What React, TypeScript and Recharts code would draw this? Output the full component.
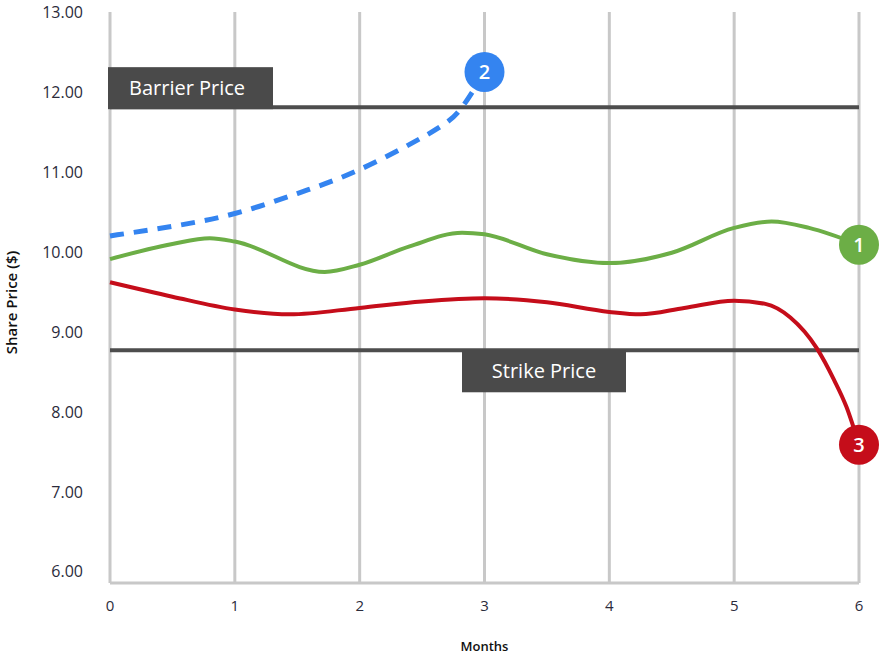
import {
  LineChart,
  Line,
  XAxis,
  YAxis,
  CartesianGrid,
  ReferenceLine,
  ReferenceDot,
} from "recharts";

const monthTicks = [0, 1, 2, 3, 4, 5, 6];
const priceTicks = [6, 7, 8, 9, 10, 11, 12, 13];

const greenSeries = [
  { m: 0, v: 9.91 },
  { m: 0.5, v: 10.1 },
  { m: 0.8, v: 10.17 },
  { m: 1, v: 10.13 },
  { m: 1.72, v: 9.75 },
  { m: 2, v: 9.84 },
  { m: 2.4, v: 10.07 },
  { m: 2.82, v: 10.24 },
  { m: 3, v: 10.22 },
  { m: 3.5, v: 9.97 },
  { m: 4, v: 9.86 },
  { m: 4.5, v: 9.99 },
  { m: 5, v: 10.3 },
  { m: 5.3, v: 10.38 },
  { m: 5.6, v: 10.3 },
  { m: 6, v: 10.09 },
];

const redSeries = [
  { m: 0, v: 9.62 },
  { m: 0.5, v: 9.44 },
  { m: 1, v: 9.28 },
  { m: 1.44, v: 9.22 },
  { m: 2, v: 9.3 },
  { m: 2.5, v: 9.38 },
  { m: 3, v: 9.42 },
  { m: 3.5, v: 9.37 },
  { m: 4, v: 9.25 },
  { m: 4.25, v: 9.22 },
  { m: 4.6, v: 9.3 },
  { m: 5, v: 9.39 },
  { m: 5.25, v: 9.35 },
  { m: 5.45, v: 9.18 },
  { m: 5.66, v: 8.8 },
  { m: 5.8, v: 8.4 },
  { m: 5.9, v: 8.06 },
  { m: 6, v: 7.59 },
];

const blueSeries = [
  { m: 0, v: 10.2 },
  { m: 0.5, v: 10.32 },
  { m: 1, v: 10.48 },
  { m: 1.5, v: 10.73 },
  { m: 2, v: 11.03 },
  { m: 2.5, v: 11.43 },
  { m: 2.65, v: 11.57 },
  { m: 2.8, v: 11.77 },
  { m: 3, v: 12.25 },
];

const markers = [
  { m: 6, v: 10.09, n: "1", color: "#6cae46" },
  { m: 3, v: 12.25, n: "2", color: "#3484f0" },
  { m: 6, v: 7.59, n: "3", color: "#c50d1a" },
];

const barrierPrice = 11.81;
const strikePrice = 8.77;

const FONT = "'Open Sans', 'Noto Sans', sans-serif";

const renderMarker = (color: string, n: string) => (props: any) => {
  const { cx, cy } = props;
  return (
    <g>
      <circle cx={cx} cy={cy} r={20} fill={color} />
      <text
        x={cx}
        y={cy + 7}
        textAnchor="middle"
        fill="#fff"
        fontSize={20}
        fontWeight={600}
        fontFamily={FONT}
      >
        {n}
      </text>
    </g>
  );
};

const BarrierLabel = ({ viewBox }: any) => {
  const { x, y } = viewBox;
  return (
    <g>
      <rect x={x - 2} y={y - 40} width={165} height={42} fill="#4a4a4a" />
      <text x={x + 19} y={y - 12} fill="#fff" fontSize={20} fontFamily={FONT}>
        Barrier Price
      </text>
    </g>
  );
};

const StrikeLabel = ({ viewBox }: any) => {
  const { x, y } = viewBox;
  return (
    <g>
      <rect x={x + 352} y={y} width={164} height={42} fill="#4a4a4a" />
      <text
        x={x + 434}
        y={y + 28}
        textAnchor="middle"
        fill="#fff"
        fontSize={20}
        fontFamily={FONT}
      >
        Strike Price
      </text>
    </g>
  );
};

const MonthsLabel = ({ viewBox }: any) => {
  const { x, y, width } = viewBox;
  return (
    <text
      x={x + width / 2}
      y={y + 68}
      textAnchor="middle"
      fill="#111"
      fontSize={13}
      fontWeight={600}
      fontFamily={FONT}
    >
      Months
    </text>
  );
};

const ShareLabel = ({ viewBox }: any) => {
  const { y, height } = viewBox;
  const cy = y + height / 2 + 5;
  return (
    <text
      x={17}
      y={cy}
      transform={`rotate(-90 17 ${cy})`}
      textAnchor="middle"
      fill="#111"
      fontSize={15}
      fontWeight={600}
      fontFamily={FONT}
    >
      Share Price ($)
    </text>
  );
};

export default function App() {
  return (
    <div style={{ position: "absolute", left: 0, top: 0, background: "#fff" }}>
      <LineChart
        width={881}
        height={655}
        margin={{ top: 12, right: 22, bottom: 0, left: 0 }}
      >
        <CartesianGrid
          horizontal={false}
          stroke="#c8c8c8"
          strokeWidth={3}
        />
        <XAxis
          type="number"
          dataKey="m"
          domain={[0, 6]}
          ticks={monthTicks}
          height={72}
          tickSize={0}
          tickMargin={17}
          axisLine={{ stroke: "#c8c8c8", strokeWidth: 3 }}
          tick={{ fill: "#2b2b3b", fontSize: 15, fontFamily: FONT }}
          label={<MonthsLabel />}
        />
        <YAxis
          type="number"
          domain={[5.86, 13]}
          ticks={priceTicks}
          allowDataOverflow
          width={110}
          tickSize={0}
          tickMargin={27}
          axisLine={false}
          tickFormatter={(v: number) => v.toFixed(2)}
          tick={{ fill: "#2b2b3b", fontSize: 16, fontFamily: FONT }}
          label={<ShareLabel />}
        />
        <ReferenceLine
          y={barrierPrice}
          stroke="#4d4d4d"
          strokeWidth={4}
          label={<BarrierLabel />}
        />
        <ReferenceLine
          y={strikePrice}
          stroke="#4d4d4d"
          strokeWidth={4}
          label={<StrikeLabel />}
        />
        <Line
          data={blueSeries}
          dataKey="v"
          type="natural"
          stroke="#3484f0"
          strokeWidth={5}
          strokeDasharray="14 10"
          dot={false}
          isAnimationActive={false}
        />
        <Line
          data={greenSeries}
          dataKey="v"
          type="monotone"
          stroke="#6cae46"
          strokeWidth={4}
          dot={false}
          isAnimationActive={false}
        />
        <Line
          data={redSeries}
          dataKey="v"
          type="monotone"
          stroke="#c50d1a"
          strokeWidth={4}
          dot={false}
          isAnimationActive={false}
        />
        {markers.map((mk) => (
          <ReferenceDot
            key={mk.n}
            x={mk.m}
            y={mk.v}
            r={20}
            shape={renderMarker(mk.color, mk.n)}
          />
        ))}
      </LineChart>
    </div>
  );
}
